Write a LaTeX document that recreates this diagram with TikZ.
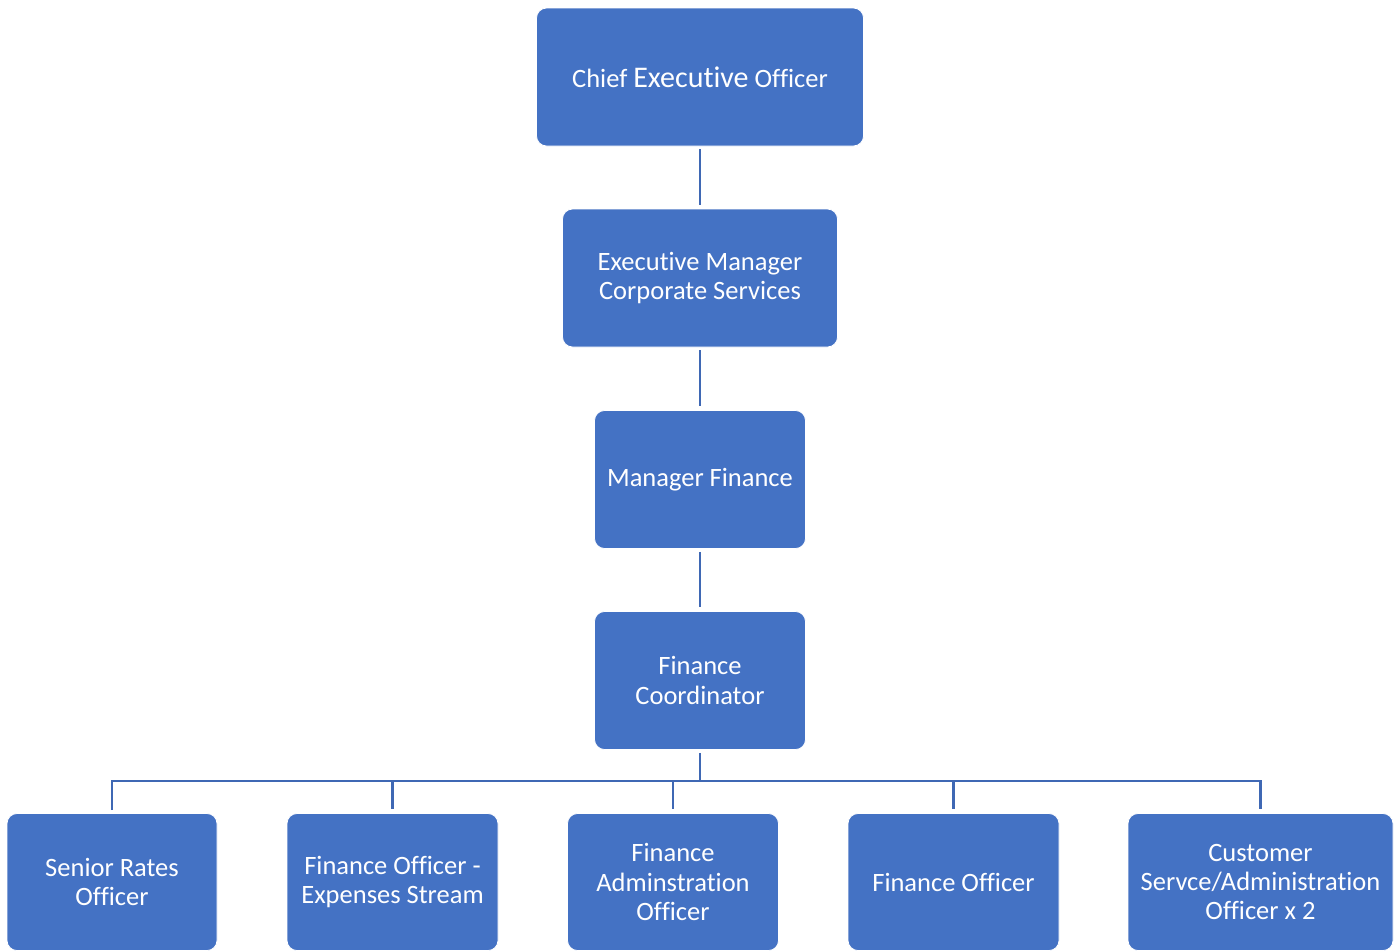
\documentclass[tikz,border=0pt]{standalone}
\usepackage{fontspec}
\setmainfont{Carlito}[Ligatures=NoCommon]
\usepackage{xcolor}
\usetikzlibrary{positioning}

\definecolor{orgblue}{HTML}{4472C4}
\definecolor{linkblue}{HTML}{3F68B4}

\begin{document}
\begin{tikzpicture}[
  x=1pt, y=-1pt,
  font=\fontsize{26.5}{29.3}\selectfont,
  box/.style={draw=white, line width=0.8pt, fill=orgblue, text=white, rounded corners=10pt, align=center, minimum height=138pt, inner sep=2pt},
  link/.style={draw=linkblue, line width=2.8pt, shorten <=3pt, shorten >=4pt}
]
\useasboundingbox (0,0) rectangle (1399,951);

% reporting line down the middle
\node[box, minimum width=327pt] (ceo) at (700,77) {Chief {\fontsize{30}{33}\selectfont Executive} Officer};
\node[box, minimum width=275pt] (execmgr) at (700,278) {Executive Manager\\Corporate Services};
\node[box, minimum width=211pt] (mgrfin) at (700,479.5) {Manager Finance};
\node[box, minimum width=211pt] (fincoord) at (700,680.5) {Finance\\Coordinator};

% staff under the coordinator
\node[box, minimum width=210pt, minimum height=137pt] (rates) at (112,882) {Senior Rates\\Officer};
\node[box, minimum width=211pt, minimum height=137pt] (expenses) at (392.5,882) {Finance Officer -\\Expenses Stream};
\node[box, minimum width=211pt, minimum height=137pt] (finadmin) at (673,882) {Finance\\Adminstration\\Officer};
\node[box, minimum width=211pt, minimum height=137pt] (finofficer) at (953.5,882) {Finance Officer};
\node[box, minimum width=265pt, minimum height=137pt] (custserv) at (1260.5,882) {Customer\\Servce/Administration\\Officer x 2};

\coordinate (bus) at (700,781);

\draw[link] (ceo) -- (execmgr);
\draw[link] (execmgr) -- (mgrfin);
\draw[link] (mgrfin) -- (fincoord);
\draw[link, shorten >=0pt] (fincoord) -- (bus);
\draw[link] (rates.north) |- (bus) -| (custserv.north);
\foreach \b in {expenses,finadmin,finofficer}
  \draw[link, shorten <=0pt] (\b.north |- bus) -- (\b.north);
\end{tikzpicture}
\end{document}
